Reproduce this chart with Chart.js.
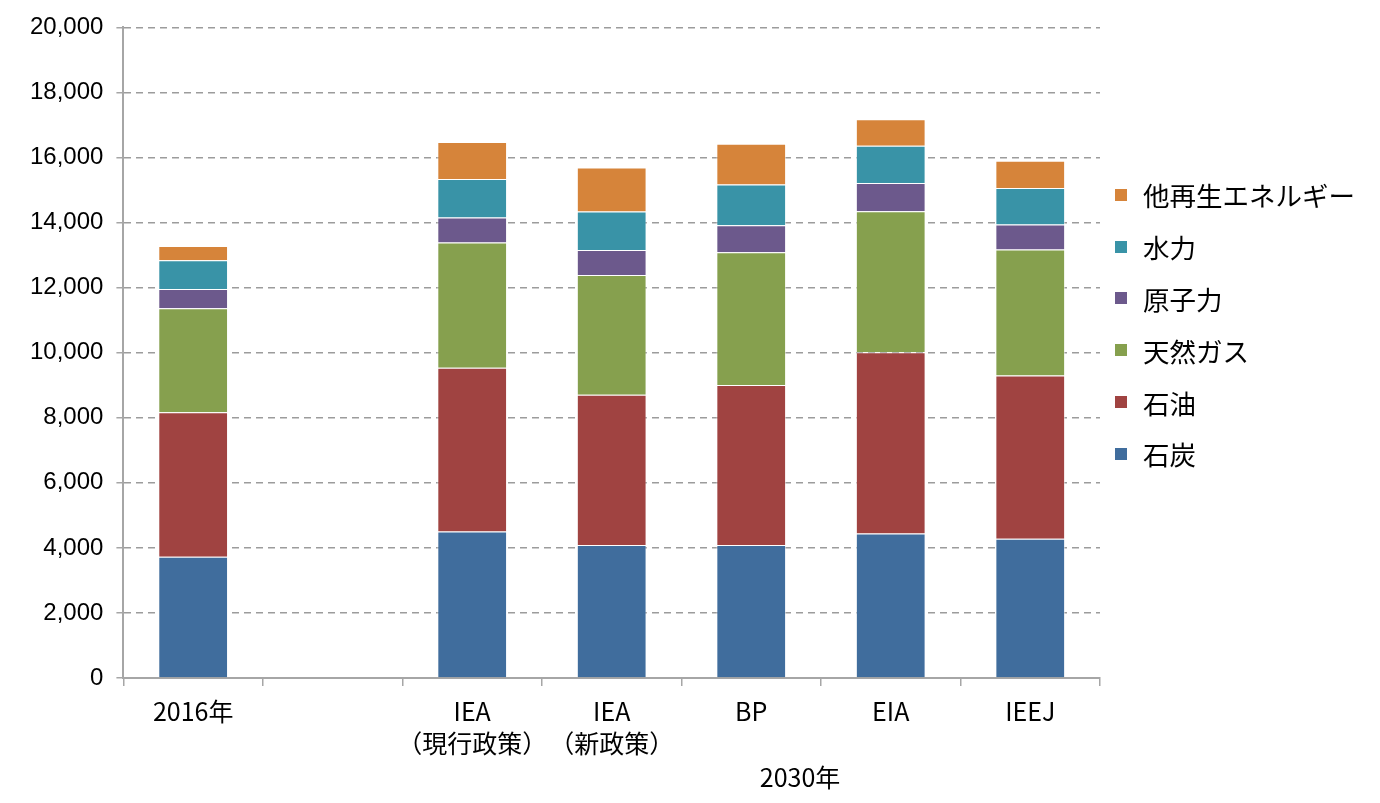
<!DOCTYPE html>
<html lang="ja">
<head>
<meta charset="utf-8">
<title>2030年 世界の一次エネルギー消費見通し</title>
<script src="https://cdn.jsdelivr.net/npm/chart.js@4.4.1/dist/chart.umd.min.js"></script>
<style>
    html, body { margin: 0; padding: 0; background: #fff; }
    #wrap { position: relative; width: 1380px; height: 803px; }
    #legend {
        position: absolute; left: 1112px; top: 169px;
        font-family: "Noto Sans CJK JP", sans-serif; font-size: 26.5px; color: #000;
    }
    #legend div { height: 51.8px; display: flex; align-items: center; }
    #legend span.box { width: 12px; height: 12px; margin: 0 16px 0 3px; display: inline-block; }
</style>
</head>
<body>
<div id="wrap">
    <canvas id="chart" width="1380" height="803"></canvas>
    <div id="legend"></div>
</div>
<script>
// categories (index 1 is the empty gap between 2016 and the 2030 outlooks)
const categories = ['2016年', '', ['IEA', '（現行政策）'], ['IEA', '（新政策）'], 'BP', 'EIA', 'IEEJ'];
const groupLabel = '2030年';

// values
const coal    = [3730, null, 4500, 4090, 4090, 4440, 4280];
const oil     = [4440, null, 5040, 4620, 4920, 5570, 5020];
const gas     = [3200, null, 3850, 3680, 4080, 4340, 3870];
const nuclear = [ 590, null,  770,  770,  830,  870,  770];
const hydro   = [ 880, null, 1180, 1180, 1250, 1140, 1120];
const otherRe = [ 440, null, 1140, 1350, 1250,  820,  840];

const seriesNames = ['石炭', '石油', '天然ガス', '原子力', '水力', '他再生エネルギー'];
const seriesColors = ['#406d9d', '#a04341', '#86a04e', '#6c598c', '#3993a7', '#d6843a'];
const seriesData = [coal, oil, gas, nuclear, hydro, otherRe];

const yTicks = [0, 2000, 4000, 6000, 8000, 10000, 12000, 14000, 16000, 18000, 20000];

const datasets = seriesNames.map((name, i) => ({
    label: name,
    data: seriesData[i],
    backgroundColor: seriesColors[i],
    borderColor: 'rgba(255,255,255,0.55)',
    borderWidth: 1,
    barPercentage: 0.5,
    categoryPercentage: 1.0
}));

// second-level label under the 2030 group
const groupLabelPlugin = {
    id: 'groupLabel',
    afterDraw(chart) {
        const x = chart.scales.x;
        const ctx = chart.ctx;
        const px = x.getPixelForValue(4) + (x.getPixelForValue(5) - x.getPixelForValue(4)) * 0.35;
        ctx.save();
        ctx.font = '25px "Noto Sans CJK JP", sans-serif';
        ctx.fillStyle = '#000';
        ctx.textAlign = 'center';
        ctx.textBaseline = 'middle';
        ctx.fillText(groupLabel, px, x.bottom + 9);
        ctx.restore();
    }
};

const chart = new Chart(document.getElementById('chart'), {
    type: 'bar',
    data: { labels: categories, datasets: datasets },
    options: {
        responsive: false,
        animation: false,
        layout: { padding: { top: 19, right: 280, bottom: 35, left: 17 } },
        plugins: {
            legend: { display: false },
            tooltip: { enabled: false }
        },
        scales: {
            x: {
                stacked: true,
                grid: {
                    display: true,
                    drawOnChartArea: false,
                    offset: true,
                    color: '#a6a6a6',
                    lineWidth: 1.5,
                    tickLength: 8
                },
                border: { display: true, color: '#a6a6a6', width: 2 },
                ticks: {
                    color: '#000',
                    maxRotation: 0,
                    autoSkip: false,
                    padding: 9,
                    font: { family: '"Noto Sans CJK JP", sans-serif', size: 25, lineHeight: 1.28 }
                }
            },
            y: {
                stacked: true,
                min: 0,
                max: 20000,
                afterBuildTicks(scale) {
                    scale.ticks = yTicks.map(v => ({ value: v }));
                },
                grid: {
                    color: '#9c9c9c',
                    lineWidth: 1.5,
                    tickLength: 7,
                    tickBorderDash: [],
                    tickColor: '#a6a6a6'
                },
                border: { display: true, color: '#a6a6a6', width: 2, dash: [7, 5] },
                ticks: {
                    color: '#000',
                    padding: 13,
                    font: { family: '"Liberation Sans", Arial, sans-serif', size: 24 },
                    callback: v => v.toLocaleString('en-US')
                }
            }
        }
    },
    plugins: [groupLabelPlugin]
});

// legend, top entry is the last series (stack order)
const legendEl = document.getElementById('legend');
for (let i = seriesNames.length - 1; i >= 0; i--) {
    const row = document.createElement('div');
    const box = document.createElement('span');
    box.className = 'box';
    box.style.background = seriesColors[i];
    row.appendChild(box);
    row.appendChild(document.createTextNode(seriesNames[i]));
    legendEl.appendChild(row);
}
</script>
</body>
</html>
